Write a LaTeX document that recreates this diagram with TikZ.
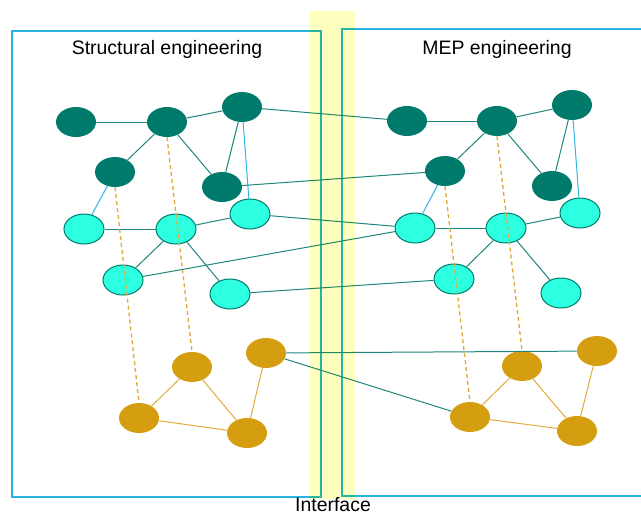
\documentclass[tikz,border=0pt]{standalone}
\usepackage{fontspec}
\setmainfont{Liberation Sans}
\usetikzlibrary{shapes.geometric}
\definecolor{dteal}{RGB}{0,123,107}
\definecolor{cyanfill}{RGB}{45,255,225}
\definecolor{goldn}{RGB}{213,158,16}
\definecolor{boxblue}{RGB}{40,180,222}
\definecolor{edgeteal}{RGB}{30,135,125}
\definecolor{edgeblue}{RGB}{50,180,230}
\definecolor{edgegold}{RGB}{226,170,60}
\definecolor{band}{RGB}{255,255,192}
\begin{document}
\begin{tikzpicture}[x=0.75pt,y=-0.75pt,
 nd/.style={ellipse,minimum width=30pt,minimum height=22.5pt,inner sep=0pt},
 dk/.style={nd,fill=dteal},
 cy/.style={nd,fill=cyanfill,draw=dteal,line width=0.75pt},
 gd/.style={nd,fill=goldn},
 te/.style={draw=edgeteal,line width=0.75pt},
 be/.style={draw=edgeblue,line width=0.75pt},
 ge/.style={draw=edgegold,line width=0.75pt},
 de/.style={draw=edgegold,line width=1pt,dash pattern=on 3pt off 2.25pt},
 frame/.style={draw=boxblue,line width=1.1pt},
 lbl/.style={font=\fontsize{14.6}{17}\selectfont,anchor=base,inner sep=0pt}]
\path[use as bounding box] (0,0) rectangle (641,515);
\clip (0,0) rectangle (641,515);

% frames
\draw[frame] (12,31) rectangle (321,497);
\draw[frame] (342,29) rectangle (660,496);

% labels
\node[lbl] (tl) at (167,54) {Structural engineering};
\node[lbl] (tr) at (497,54) {MEP engineering};
\node[lbl] (ti) at (333,511) {Interface};

% left nodes
\node[dk] (D1) at (76,122) {};
\node[dk] (D2) at (167,122) {};
\node[dk] (D3) at (242,107) {};
\node[dk] (D4) at (115,172) {};
\node[dk] (D5) at (222,187) {};
\node[cy] (C1) at (84,229) {};
\node[cy] (C2) at (176,229) {};
\node[cy] (C3) at (250,214) {};
\node[cy] (C4) at (123,280) {};
\node[cy] (C5) at (230,294) {};
\node[gd] (G1) at (192,367) {};
\node[gd] (G2) at (266,353) {};
\node[gd] (G3) at (139,418) {};
\node[gd] (G4) at (247,433) {};

% right nodes
\node[dk] (RD1) at (407,121) {};
\node[dk] (RD2) at (497,121) {};
\node[dk] (RD3) at (572,105) {};
\node[dk] (RD4) at (445,171) {};
\node[dk] (RD5) at (552,186) {};
\node[cy] (RC1) at (415,228) {};
\node[cy] (RC2) at (506,228) {};
\node[cy] (RC3) at (580,213) {};
\node[cy] (RC4) at (454,279) {};
\node[cy] (RC5) at (561,293) {};
\node[gd] (RG1) at (522,366) {};
\node[gd] (RG2) at (597,351) {};
\node[gd] (RG3) at (470,417) {};
\node[gd] (RG4) at (577,431) {};

% left edges
\draw[te] (D1) -- (D2);
\draw[te] (D2) -- (D3);
\draw[te] (D2) -- (D4);
\draw[te] (D2) -- (D5);
\draw[te] (D3) -- (D5);
\draw[be] (D3) -- (C3);
\draw[be] (D4) -- (C1);
\draw[te] (C1) -- (C2);
\draw[te] (C2) -- (C3);
\draw[te] (C2) -- (C4);
\draw[te] (C2) -- (C5);
\draw[ge] (G1) -- (G3);
\draw[ge] (G1) -- (G4);
\draw[ge] (G3) -- (G4);
\draw[ge] (G2) -- (G4);
\draw[de] (D4.south) -- (G3.north);
\draw[de] (D2.south) -- (G1.north);

% right edges
\draw[te] (RD1) -- (RD2);
\draw[te] (RD2) -- (RD3);
\draw[te] (RD2) -- (RD4);
\draw[te] (RD2) -- (RD5);
\draw[te] (RD3) -- (RD5);
\draw[be] (RD3) -- (RC3);
\draw[be] (RD4) -- (RC1);
\draw[te] (RC1) -- (RC2);
\draw[te] (RC2) -- (RC3);
\draw[te] (RC2) -- (RC4);
\draw[te] (RC2) -- (RC5);
\draw[ge] (RG1) -- (RG3);
\draw[ge] (RG1) -- (RG4);
\draw[ge] (RG3) -- (RG4);
\draw[ge] (RG2) -- (RG4);
\draw[de] (RD4.south) -- (RG3.north);
\draw[de] (RD2.south) -- (RG1.north);

% cross edges
\draw[te] (D3) -- (RD1);
\draw[te] (D5) -- (RD4);
\draw[te] (C3) -- (RC1);
\draw[te] (C4) -- (RC1);
\draw[te] (C5) -- (RC4);
\draw[te] (G2) -- (RG2);
\draw[te] (G2) -- (RG3);

% interface band
\begin{scope}[blend mode=multiply]
\fill[band] (310,11) rectangle (355,499);
\end{scope}
\end{tikzpicture}
\end{document}
